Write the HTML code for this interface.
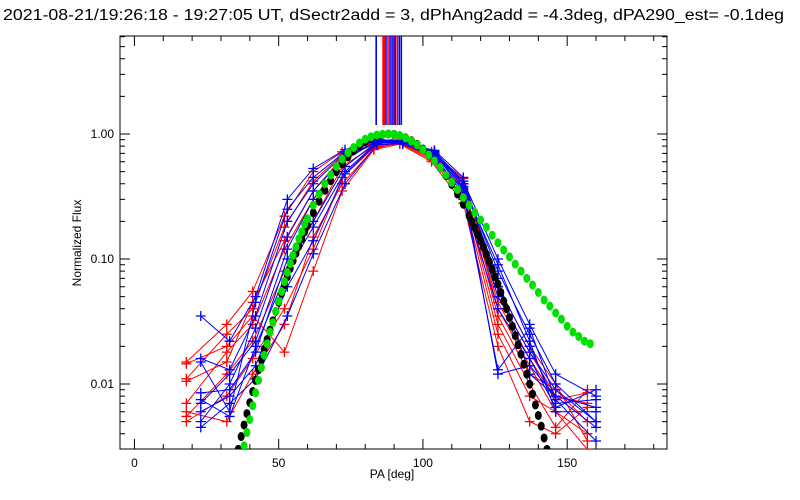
<!DOCTYPE html>
<html><head><meta charset="utf-8"><style>
html,body{margin:0;padding:0;background:#fff;width:800px;height:500px;overflow:hidden}
svg{display:block}
text{font-family:"Liberation Sans",sans-serif;fill:#000}
</style></head><body>
<svg id="chart" width="800" height="500" viewBox="0 0 800 500" xmlns="http://www.w3.org/2000/svg">
<text x="3" y="20" font-size="15.5" textLength="781" lengthAdjust="spacingAndGlyphs">2021-08-21/19:26:18 - 19:27:05 UT, dSectr2add = 3, dPhAng2add = -4.3deg, dPA290_est= -0.1deg</text>
<text transform="translate(81,243) rotate(-90)" font-size="12" text-anchor="middle">Normalized Flux</text>
<text x="392" y="478" font-size="12" text-anchor="middle">PA [deg]</text>
<g id="axes"></g>
<g id="marks"></g>
</svg>
<script>
const xTicks=[0,50,100,150];
const yTicks=[0.01,0.1,1];
const yTickLabels=["0.01","0.10","1.00"];
const redPA=[18,32,41,52,62,72,83,92,103,114,126,137,146,157];
const bluePA=[23,33,42,53,62,73,84,93,104,114,126,137,146,160];
const blueSeries=[
[0.035,0.022,0.05,0.30,0.53,0.75,0.92,0.85,0.72,0.42,0.10,0.030,0.012,0.008],
[0.016,0.013,0.035,0.20,0.40,0.70,0.90,0.88,0.70,0.40,0.08,0.025,0.010,0.005],
[0.007,0.012,0.022,0.12,0.30,0.62,0.88,0.87,0.68,0.38,0.012,0.014,0.008,0.0065],
[0.0085,0.009,0.018,0.10,0.20,0.55,0.86,0.85,0.74,0.45,0.06,0.020,0.007,0.0075],
[0.006,0.008,0.014,0.06,0.14,0.48,0.84,0.86,0.70,0.35,0.05,0.018,0.009,0.005],
[0.0045,0.007,0.011,0.035,0.11,0.40,0.82,0.84,0.66,0.30,0.04,0.016,0.0065,0.009],
[0.015,0.006,0.045,0.25,0.45,0.72,0.90,0.86,0.73,0.40,0.07,0.012,0.008,0.0045],
[0.005,0.010,0.028,0.15,0.35,0.66,0.87,0.83,0.67,0.33,0.013,0.028,0.0075,0.0035],
[0.0075,0.0055,0.020,0.08,0.18,0.50,0.85,0.87,0.71,0.37,0.09,0.022,0.006,0.006]
];
const redSeries=[
[0.015,0.03,0.055,0.22,0.50,0.72,0.88,0.90,0.72,0.44,0.05,0.018,0.008,0.007],
[0.011,0.025,0.04,0.18,0.42,0.68,0.86,0.88,0.68,0.40,0.04,0.014,0.006,0.004],
[0.007,0.018,0.03,0.12,0.30,0.62,0.84,0.86,0.66,0.37,0.035,0.012,0.009,0.005],
[0.0055,0.012,0.022,0.08,0.20,0.55,0.80,0.85,0.64,0.34,0.03,0.010,0.0045,0.009],
[0.005,0.008,0.016,0.04,0.12,0.45,0.78,0.84,0.62,0.31,0.025,0.008,0.006,0.003],
[0.0145,0.020,0.035,0.018,0.08,0.35,0.75,0.83,0.60,0.28,0.02,0.005,0.004,0.0065],
[0.006,0.005,0.012,0.03,0.15,0.40,0.76,0.86,0.64,0.36,0.045,0.016,0.0075,0.0085],
[0.0105,0.015,0.045,0.14,0.35,0.65,0.82,0.95,0.70,0.42,0.06,0.020,0.010,0.0035]
];
const blackPA=[36,37,38,39,40,41,42,43,44,45,46,47,48,49,50,51,52,53,54,55,56,57,58,59,60,62,64,66,68,70,72,74,76,78,80,82,84,86,88,90,92,94,96,98,100,102,104,106,108,110,112,114,116,117,118,119,120,121,122,123,124,125,126,127,128,129,130,131,132,133,134,135,136,137,138,139,140,141,142,143,144];
const blackVal=[0.0030,0.0038,0.0047,0.0058,0.0071,0.0087,0.0107,0.013,0.0157,0.019,0.0227,0.027,0.032,0.038,0.045,0.053,0.062,0.072,0.084,0.097,0.111,0.127,0.145,0.165,0.186,0.234,0.290,0.354,0.424,0.499,0.577,0.656,0.734,0.807,0.871,0.925,0.966,0.991,1.0,0.993,0.97,0.933,0.885,0.826,0.759,0.687,0.612,0.537,0.464,0.395,0.331,0.274,0.222,0.199,0.178,0.158,0.140,0.124,0.109,0.095,0.083,0.072,0.063,0.054,0.046,0.040,0.034,0.029,0.0244,0.0206,0.0173,0.0144,0.0120,0.0100,0.0083,0.0068,0.0056,0.0046,0.0037,0.0030,0.0025];
const greenPA=[38,39,40,41,42,43,44,45,46,47,48,49,50,51,52,53,54,55,56,57,58,59,60,62,64,66,68,70,72,74,76,78,80,82,84,86,88,90,92,94,96,98,100,102,104,106,108,110,112,114,116,118,120,122,124,126,128,130,132,134,136,138,140,142,144,146,148,150,152,154,156,158];
const greenVal=[0.0032,0.0041,0.0052,0.0067,0.0085,0.0107,0.0135,0.017,0.021,0.026,0.031,0.038,0.046,0.055,0.066,0.078,0.092,0.107,0.125,0.145,0.165,0.19,0.21,0.27,0.33,0.40,0.47,0.55,0.63,0.71,0.78,0.85,0.91,0.95,0.98,0.995,1.0,0.99,0.97,0.93,0.88,0.82,0.75,0.68,0.61,0.54,0.47,0.41,0.36,0.31,0.27,0.235,0.205,0.18,0.155,0.135,0.118,0.104,0.091,0.080,0.070,0.062,0.054,0.047,0.042,0.037,0.033,0.029,0.026,0.024,0.022,0.021];
const peakPA=[83.8,86.2,86.6,87.2,87.9,88.6,89.3,89.9,90.4,91.1,91.8,92.5];
const peakColor=["blue","red","red","blue","red","blue","blue","red","blue","red","blue","blue"];

const NS="http://www.w3.org/2000/svg";
const L=120,R=667,T=36,B=449;
const xMin=-5,xMax=184.6;
const x=v=>L+(v-xMin)/(xMax-xMin)*(R-L);
const y=v=>134-Math.log10(v)*125;
const axes=document.getElementById('axes'),marks=document.getElementById('marks');
function mk(tag,attrs,parent){const e=document.createElementNS(NS,tag);for(const k in attrs)e.setAttribute(k,attrs[k]);parent.appendChild(e);return e;}

const clip=mk('clipPath',{id:'pc'},document.getElementById('chart'));
mk('rect',{x:L,y:T,width:R-L,height:B-T},clip);
marks.setAttribute('clip-path','url(#pc)');

const frame=mk('rect',{x:L,y:T,width:R-L,height:B-T,fill:'none',stroke:'#000','stroke-width':1},axes);



for(let v=0;v<=180;v+=10){
  const major=v%50===0, len=major?10:5;
  mk('line',{x1:x(v),x2:x(v),y1:B,y2:B-len,stroke:'#000'},axes);
  mk('line',{x1:x(v),x2:x(v),y1:T,y2:T+len,stroke:'#000'},axes);
}
xTicks.forEach(v=>{
  const t=mk('text',{x:x(v),y:467,'font-size':12,'text-anchor':'middle'},axes);
  t.textContent=String(v);
  
  
});
for(let d=-3;d<=0;d++){for(let m=1;m<=9;m++){
  const v=m*Math.pow(10,d);const yy=y(v);if(yy<T||yy>B)continue;
  const len=m===1?10:5;
  mk('line',{x1:L,x2:L+len,y1:yy,y2:yy,stroke:'#000'},axes);
  mk('line',{x1:R,x2:R-len,y1:yy,y2:yy,stroke:'#000'},axes);
}}
yTicks.forEach((v,i)=>{
  const t=mk('text',{x:114,y:y(v)+4,'font-size':12,'text-anchor':'end'},axes);
  t.textContent=yTickLabels[i];
  
  
});

function drawSeries(pa,vals,color,name){
  const g=mk('g',{},marks);
  
  
  mk('polyline',{points:pa.map((p,i)=>x(p)+','+y(vals[i])).join(' '),fill:'none',stroke:color,'stroke-width':1},g);
  pa.forEach((p,i)=>{const cx=x(p),cy=y(vals[i]);
    mk('path',{d:`M${cx-5},${cy}H${cx+5}M${cx},${cy-5}V${cy+5}`,stroke:color,'stroke-width':1.3},g);});
}
redSeries.forEach((s,i)=>drawSeries(redPA,s,'#ff0000','red-series-'+(i+1)));
blueSeries.forEach((s,i)=>drawSeries(bluePA,s,'#0000ff','blue-series-'+(i+1)));

function drawDots(pa,vals,color,name){
  const g=mk('g',{fill:color},marks);
  
  
  pa.forEach((p,i)=>mk('ellipse',{cx:x(p),cy:y(vals[i]),rx:3.5,ry:4.5},g));
}
drawDots(blackPA,blackVal,'#000000','black-model-curve');
drawDots(greenPA,greenVal,'#00e000','green-model-curve');

const pg=mk('g',{},marks);


peakPA.forEach((p,i)=>mk('line',{x1:x(p),x2:x(p),y1:T,y2:125,stroke:peakColor[i],'stroke-width':1.6},pg));
</script>
</body></html>
